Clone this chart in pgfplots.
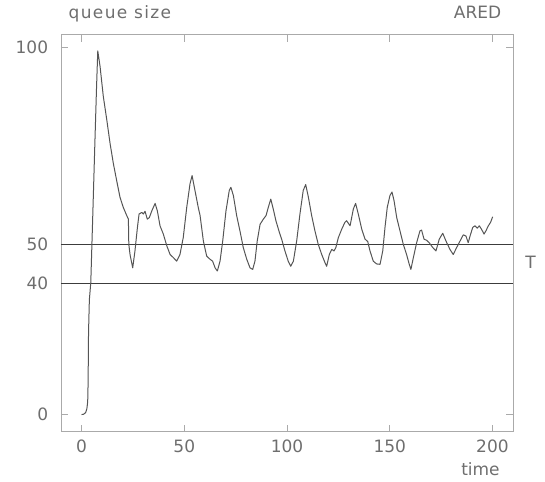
\documentclass[border=0pt]{standalone}
\usepackage{fontspec}
\setmainfont{DejaVu Sans}
\usepackage{pgfplots}
\pgfplotsset{compat=1.18}
\definecolor{txt}{RGB}{110,110,110}
\definecolor{framec}{RGB}{170,170,170}
\definecolor{curvec}{RGB}{85,85,85}
\definecolor{hline}{RGB}{60,60,60}
\begin{document}
\fontsize{17}{20}\selectfont
\begin{tikzpicture}
\begin{axis}[
 scale only axis, width=452pt, height=397pt,
 xmin=-10, xmax=210, ymin=-5.2, ymax=103.36,
 y coord trafo/.code={\pgfmathparse{(#1)>=40 ? (#1) : 40-(40-(#1))*0.8333}},
 y coord inv trafo/.code={\pgfmathparse{(#1)>=40 ? (#1) : 40-(40-(#1))/0.8333}},
 xtick={0,50,100,150,200},
 ytick={0,40,50,100}, yticklabels={0,40,50,100},
 tick align=inside, major tick length=7pt,
 axis line style={draw=framec, line width=0.6pt},
 tick style={draw=framec, line width=0.6pt},
 ticklabel style={text=txt, font=\fontsize{17}{20}\selectfont},
 /pgf/number format/assume math mode=true,
 yticklabel style={xshift=-7pt},
 xticklabel style={yshift=-2pt},
 clip=false,
]
\addplot[hline, line width=0.8pt] coordinates {(-10,50) (210,50)};
\addplot[hline, line width=0.8pt] coordinates {(-10,40) (210,40)};
\addplot[curvec, line width=1pt, line join=round] coordinates {
(0,0) (1,0.1) (2,0.6) (2.6,1.8) (3.0,4) (3.2,10) (3.4,25) (3.8,35) (4.5,40.3) (5.5,58) (6.5,76) (7.3,90) (7.9,99.2)
(9.0,95.3) (10.6,87.6) (12.3,81.6) (13.9,75.6) (15.5,70.5) (17.1,66.2) (18.7,62.0) (20.3,59.4) (22.0,57.3) (22.8,56.4)
(23.0,50) (23.6,47.4) (24.9,44.0) (26.0,48.3) (27.2,54.3) (28.0,57.7) (29.3,58.1) (30.1,57.7) (30.9,58.4) (32.0,56.4)
(33.0,56.8) (34.2,58.5) (35.8,60.4) (36.9,58.5) (38.2,54.7) (39.8,52.6) (41.5,49.6) (43.1,47.4) (44.7,46.6) (46.3,45.7)
(47.9,47.4) (49.5,51.7) (51.2,59.4) (52.8,65.4) (53.8,67.5) (55.2,63.7) (56.8,59.4) (57.7,57.3) (59.3,50.8) (60.9,47.0)
(62.5,46.2) (63.8,45.7) (65.0,44.0) (66.1,43.2) (67.4,45.7) (68.7,50.8) (70.3,58.5) (71.9,63.7) (72.7,64.5) (73.9,62.4)
(75.5,57.3) (77.1,53.4) (78.7,49.2) (80.4,46.2) (82.0,44.0) (83.3,43.6) (84.4,45.7) (85.5,50.8) (86.9,55.1) (88.5,56.4)
(89.8,57.3) (90.9,59.4) (92.1,61.5) (93.3,59.0) (94.6,56.0) (96.3,53.0) (97.4,51.3) (99.0,48.3) (100.6,45.7) (101.8,44.4)
(103.1,45.7) (104.7,50.8) (106.3,57.7) (107.9,63.7) (109.1,65.2) (110.4,62.0) (112.0,57.3) (113.6,53.4) (115.2,50.0)
(116.9,47.4) (118.5,45.3) (119.3,44.4) (120.6,47.4) (121.8,48.7) (122.9,48.3) (123.8,49.2) (125.0,51.7) (126.6,53.8)
(128.2,55.6) (129.0,56.0) (130.7,54.7) (132.3,59.0) (133.4,60.4) (134.7,57.7) (136.4,53.8) (138.0,51.3) (139.3,50.7)
(140.4,48.3) (142.0,45.7) (143.6,45.0) (145.3,44.9) (146.6,48.3) (147.7,54.3) (148.8,59.4) (150.1,62.4) (151.1,63.3)
(152.1,61.1) (153.4,56.8) (155.0,53.4) (156.6,50.0) (158.2,47.4) (159.5,44.9) (160.3,43.6) (161.5,46.6) (163.1,50.4)
(164.7,53.4) (165.5,53.6) (166.7,51.3) (168.0,51.0) (169.2,50.4) (170.9,49.2) (172.5,48.3) (174.1,51.3) (175.8,52.8)
(177.4,50.8) (179.3,48.7) (180.9,47.4) (182.6,49.2) (184.2,50.8) (185.8,52.4) (187.1,52.1) (188.2,50.4) (189.1,52.1)
(190.4,54.3) (191.5,54.7) (192.6,54.1) (193.6,54.7) (194.7,53.8) (195.9,52.6) (196.8,53.4) (198.0,54.7) (199.1,55.6) (200.1,57.0)
};
\node[anchor=base west, text=txt, yshift=16pt] at (rel axis cs:0.004,1) {\addfontfeatures{LetterSpace=8}queue size};
\node[anchor=base east, text=txt, yshift=16pt] at (rel axis cs:0.987,1) {ARED};
\node[anchor=base, text=txt, yshift=-44pt] at (rel axis cs:0.928,0) {time};
\node[anchor=base, text=txt] at (axis cs:218.5,43.8) {T};
\path (rel axis cs:0,0) ++(-61pt,-46pt) rectangle ++(545pt,474pt);
\end{axis}
\end{tikzpicture}
\end{document}
